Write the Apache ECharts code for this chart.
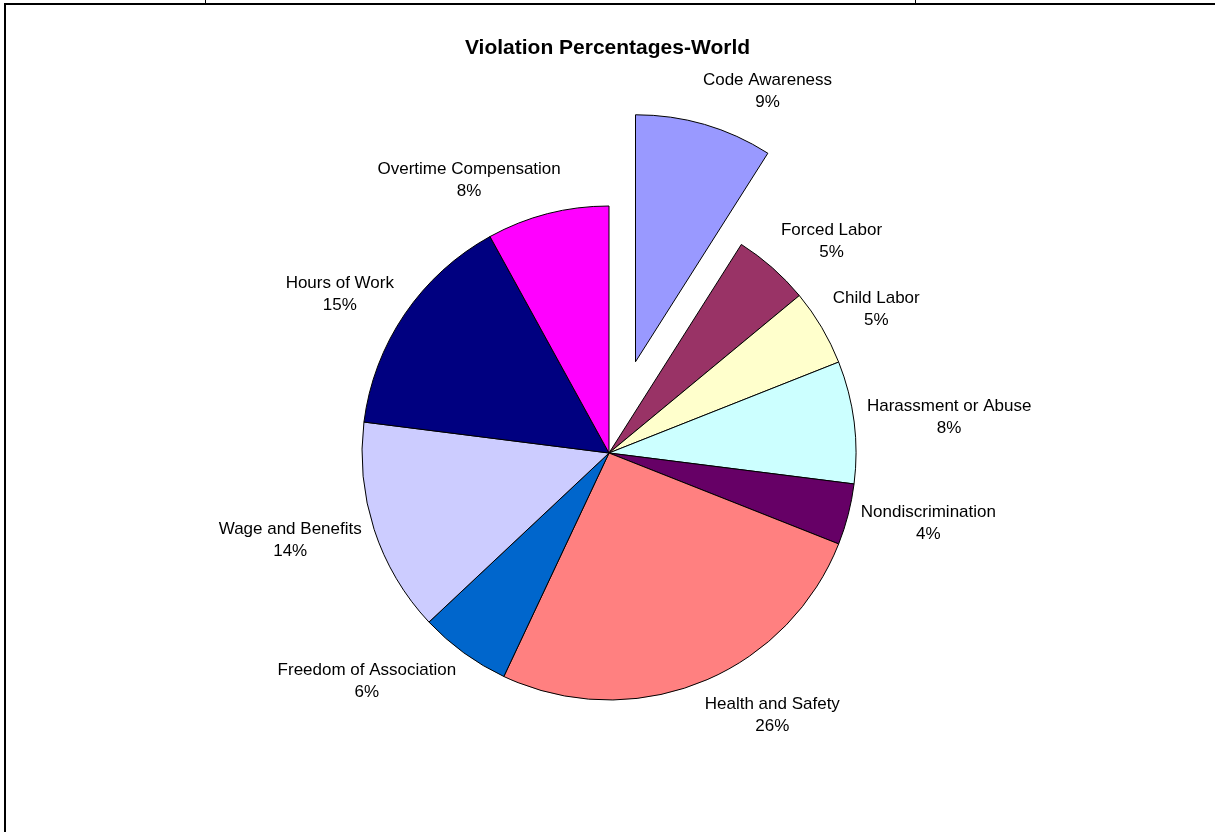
<!DOCTYPE html>
<html>
<head>
<meta charset="utf-8">
<title>Violation Percentages-World</title>
<script src="https://cdn.jsdelivr.net/npm/echarts@6/dist/echarts.min.js"></script>
<style>
  html, body { margin: 0; padding: 0; background: #ffffff; }
  #chart { width: 1215px; height: 832px; }
</style>
</head>
<body>
<div id="chart"></div>
<script>
// Violation categories, clockwise from 12 o'clock
const categories = [
  'Code Awareness',
  'Forced Labor',
  'Child Labor',
  'Harassment or Abuse',
  'Nondiscrimination',
  'Health and Safety',
  'Freedom of Association',
  'Wage and Benefits',
  'Hours of Work',
  'Overtime Compensation'
];

// Share of violations (%)
const percentages = [9, 5, 5, 8, 4, 26, 6, 14, 15, 8];

// Classic spreadsheet palette, one colour per slice
const sliceColors = [
  '#9999FF', '#993366', '#FFFFCC', '#CCFFFF', '#660066',
  '#FF8080', '#0066CC', '#CCCCFF', '#000080', '#FF00FF'
];

// The slice pulled out of the pie
const explodedCategory = 'Code Awareness';

const CX = 609, CY = 453, RADIUS = 247;
const EXPLODE = 95;
const LABEL_GAP = 13;

// Mid-angle of each slice in degrees, clockwise from 12 o'clock
const total = percentages.reduce((a, b) => a + b, 0);
const midAngles = [];
let acc = 0;
percentages.forEach(v => {
  midAngles.push((acc + v / 2) / total * 360);
  acc += v;
});

// Centre of the pulled-out slice, shifted along its own mid-angle
const explodedIndex = categories.indexOf(explodedCategory);
const explodedMid = midAngles[explodedIndex] * Math.PI / 180;
const EX_CX = CX + EXPLODE * Math.sin(explodedMid);
const EX_CY = CY - EXPLODE * Math.cos(explodedMid);

// Labels sit just outside their slice, pushed away from the pie centre
function makeLabelLayout(cx, cy) {
  return function (params) {
    const i = params.dataIndex;
    const a = midAngles[i] * Math.PI / 180;
    const s = Math.sin(a), c = Math.cos(a);
    const w = params.labelRect.width, h = params.labelRect.height;
    const r = RADIUS + LABEL_GAP;
    const k = Math.max(-1, Math.min(1, 3.3 * s));
    return {
      x: cx + r * s + k * w / 2,
      y: cy - r * c - c * h / 2,
      align: 'center',
      verticalAlign: 'middle'
    };
  };
}

const labelStyle = {
  show: true,
  position: 'outside',
  formatter: '{b}\n{d}%',
  fontFamily: 'Liberation Sans, Arial, sans-serif',
  fontSize: 17,
  lineHeight: 22,
  color: '#000000'
};

const hiddenItem = {
  itemStyle: { color: 'rgba(0,0,0,0)', borderWidth: 0 },
  label: { show: false }
};

const commonPie = {
  type: 'pie',
  radius: RADIUS,
  startAngle: 90,
  clockwise: true,
  silent: true,
  avoidLabelOverlap: false,
  percentPrecision: 0,
  emphasis: { disabled: true },
  itemStyle: { borderColor: '#000000', borderWidth: 1 },
  label: labelStyle,
  labelLine: { show: false }
};

const chart = echarts.init(document.getElementById('chart'), null, { renderer: 'canvas' });

const option = {
  backgroundColor: '#ffffff',
  animation: false,
  title: {
    text: 'Violation Percentages-World',
    left: 'center',
    top: 33,
    textStyle: {
      fontFamily: 'Liberation Sans, Arial, sans-serif',
      fontSize: 21,
      fontWeight: 'bold',
      color: '#000000'
    }
  },
  graphic: [
    {
      type: 'rect',
      silent: true,
      shape: { x: 5, y: 4, width: 1400, height: 1000 },
      style: { fill: 'none', stroke: '#000000', lineWidth: 2 }
    },
    {
      type: 'line', silent: true,
      shape: { x1: 205.5, y1: 0, x2: 205.5, y2: 3 },
      style: { stroke: '#000000', lineWidth: 1 }
    },
    {
      type: 'line', silent: true,
      shape: { x1: 915.5, y1: 0, x2: 915.5, y2: 3 },
      style: { stroke: '#000000', lineWidth: 1 }
    }
  ],
  series: [
    // Main pie, with the pulled-out slice left empty
    Object.assign({}, commonPie, {
      name: 'Violations',
      center: [CX, CY],
      labelLayout: makeLabelLayout(CX, CY),
      data: categories.map((name, i) => Object.assign(
        { name: name, value: percentages[i] },
        i === explodedIndex ? hiddenItem : { itemStyle: { color: sliceColors[i] } }
      ))
    }),
    // The pulled-out slice, drawn on its own shifted centre
    Object.assign({}, commonPie, {
      name: 'Violations (exploded)',
      center: [EX_CX, EX_CY],
      labelLayout: makeLabelLayout(EX_CX, EX_CY),
      data: categories.map((name, i) => Object.assign(
        { name: name, value: percentages[i] },
        i === explodedIndex ? { itemStyle: { color: sliceColors[i] } } : hiddenItem
      ))
    })
  ]
};

chart.setOption(option);
</script>
</body>
</html>
